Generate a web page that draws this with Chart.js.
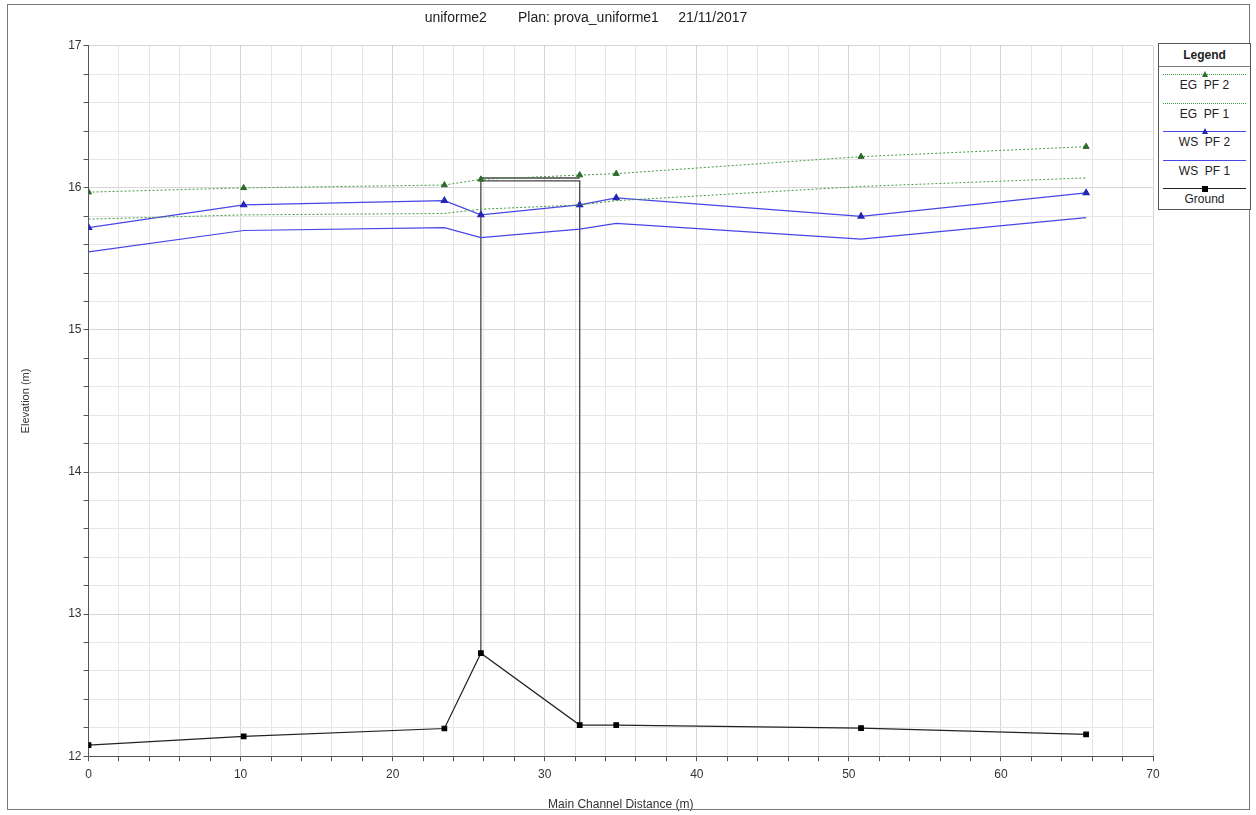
<!DOCTYPE html>
<html>
<head>
<meta charset="utf-8">
<script src="https://cdn.jsdelivr.net/npm/chart.js@4.4.1/dist/chart.umd.min.js"></script>
<style>
  html, body { margin: 0; padding: 0; background: #fff; }
  #wrap { position: relative; width: 1256px; height: 815px; }
  #frame { position: absolute; left: 7px; top: 4px; width: 1243px; height: 806px; border: 1px solid #777; box-sizing: border-box; pointer-events: none; }
  #plot { position: absolute; left: 0; top: 0; }
  #legend { position: absolute; left: 1158px; top: 43px; width: 93px; height: 167px; border: 1px solid #555; box-sizing: border-box; background: #fff; font-family: "Liberation Sans", Arial, sans-serif; font-size: 12px; color: #222; }
  #legend .head { height: 22px; line-height: 22px; text-align: center; font-weight: bold; border-bottom: 1px solid #777; }
  #legend .item { position: relative; height: 28.5px; }
  #legend .sample { position: absolute; left: 4px; right: 4px; top: 7px; height: 0; }
  #legend .mark { position: absolute; left: 50%; top: -4px; transform: translateX(-50%); }
  #legend .name { position: absolute; left: 0; right: 0; top: 11px; text-align: center; white-space: pre; }
</style>
</head>
<body>
<div id="wrap">
  <canvas id="plot" width="1256" height="815"></canvas>
  <div id="frame"></div>
  <div id="legend"></div>
</div>
<script>
// River stations along the main channel (m)
const stations = [0, 10.2, 23.4, 25.8, 32.3, 34.7, 50.8, 65.6];

// Elevations (m) per profile
const egPF2 = [15.97, 16.00, 16.02, 16.06, 16.09, 16.10, 16.22, 16.29];
const egPF1 = [15.78, 15.81, 15.82, 15.85, 15.88, 15.91, 16.01, 16.07];
const wsPF2 = [15.72, 15.88, 15.91, 15.81, 15.88, 15.93, 15.80, 15.965];
const wsPF1 = [15.55, 15.70, 15.72, 15.65, 15.71, 15.75, 15.64, 15.79];
const ground = [12.078, 12.14, 12.195, 12.725, 12.219, 12.219, 12.198, 12.153];

// Bridge deck between the upstream and downstream faces
const deckStations = [25.8, 32.3];
const deckHigh = 16.07;
const deckLow = 16.05;

const xTicks = [0, 10, 20, 30, 40, 50, 60, 70];
const yTicks = [12, 13, 14, 15, 16, 17];

const GREEN = '#3f9a3f';
const GREEN_MARK = '#2d6b2d';
const BLUE = '#4646e6';
const BLUE_MARK = '#2525b8';
const BLACK = '#222';

const pts = (ys) => stations.map((x, i) => ({ x, y: ys[i] }));

const bridgeFaces = [
  { x: deckStations[0], y: ground[stations.indexOf(deckStations[0])] },
  { x: deckStations[0], y: deckLow },
  { x: deckStations[1], y: deckLow },
  { x: deckStations[1], y: ground[stations.indexOf(deckStations[1])] },
];
const deckTop = deckStations.map(x => ({ x, y: deckHigh }));

const isMajor = (v, list) => list.some(t => Math.abs(t - v) < 1e-6);

new Chart(document.getElementById('plot'), {
  type: 'scatter',
  data: {
    datasets: [
      { label: 'EG  PF 2', data: pts(egPF2), showLine: true, borderColor: GREEN, borderWidth: 1, borderDash: [2, 2],
        pointStyle: 'triangle', pointRadius: 3.5, pointBackgroundColor: GREEN_MARK, pointBorderColor: GREEN_MARK },
      { label: 'EG  PF 1', data: pts(egPF1), showLine: true, borderColor: GREEN, borderWidth: 1, borderDash: [2, 2],
        pointRadius: 0 },
      { label: 'WS  PF 2', data: pts(wsPF2), showLine: true, borderColor: BLUE, borderWidth: 1.2,
        pointStyle: 'triangle', pointRadius: 3.5, pointBackgroundColor: BLUE_MARK, pointBorderColor: BLUE_MARK },
      { label: 'WS  PF 1', data: pts(wsPF1), showLine: true, borderColor: BLUE, borderWidth: 1.2, pointRadius: 0 },
      { label: 'Ground', data: pts(ground), showLine: true, borderColor: BLACK, borderWidth: 1.2,
        pointStyle: 'rect', pointRadius: 3.2, pointBackgroundColor: '#000', pointBorderColor: '#000' },
      { label: 'bridge', data: bridgeFaces, showLine: true, borderColor: '#444', borderWidth: 1.3, pointRadius: 0 },
      { label: 'deck', data: deckTop, showLine: true, borderColor: '#444', borderWidth: 1.5, pointRadius: 0 },
    ],
  },
  options: {
    responsive: false,
    animation: false,
    layout: { padding: { left: 19, right: 103, top: 0, bottom: 3 } },
    plugins: {
      legend: { display: false },
      tooltip: { enabled: false },
      title: {
        display: true,
        text: 'uniforme2        Plan: prova_uniforme1     21/11/2017',
        color: '#222',
        font: { family: '"Liberation Sans", Arial, sans-serif', size: 14, weight: 'normal' },
        padding: { top: 10, bottom: 19 },
      },
    },
    scales: {
      x: {
        type: 'linear', min: 0, max: 70,
        border: { color: '#555', width: 1 },
        grid: {
          color: ctx => isMajor(ctx.tick.value, xTicks) ? '#d6d6d6' : '#e6e6e6',
          tickColor: '#555', tickLength: 5,
        },
        ticks: {
          stepSize: 2, autoSkip: false, maxRotation: 0, color: '#333', padding: 6,
          font: { family: '"Liberation Sans", Arial, sans-serif', size: 12 },
          callback: v => isMajor(v, xTicks) ? String(v) : '',
        },
        title: {
          display: true, text: 'Main Channel Distance (m)', color: '#333',
          font: { family: '"Liberation Sans", Arial, sans-serif', size: 12 }, padding: { top: 10, bottom: 0 },
        },
      },
      y: {
        type: 'linear', min: 12, max: 17,
        border: { color: '#555', width: 1 },
        grid: {
          color: ctx => isMajor(ctx.tick.value, yTicks) ? '#d6d6d6' : '#e6e6e6',
          tickColor: '#555', tickLength: 5,
        },
        ticks: {
          stepSize: 0.2, autoSkip: false, color: '#333', padding: 2,
          font: { family: '"Liberation Sans", Arial, sans-serif', size: 12 },
          callback: v => isMajor(v, yTicks) ? String(Math.round(v)) : '',
        },
        title: {
          display: true, text: 'Elevation (m)', color: '#333',
          font: { family: '"Liberation Sans", Arial, sans-serif', size: 11 }, padding: { top: 0, bottom: 34 },
        },
      },
    },
  },
});

// Legend panel on the right
const legendItems = [
  { name: 'EG  PF 2', color: GREEN, dash: true, mark: 'tri', markColor: GREEN_MARK },
  { name: 'EG  PF 1', color: GREEN, dash: true, mark: null },
  { name: 'WS  PF 2', color: BLUE, dash: false, mark: 'tri', markColor: BLUE_MARK },
  { name: 'WS  PF 1', color: BLUE, dash: false, mark: null },
  { name: 'Ground', color: BLACK, dash: false, mark: 'sq', markColor: '#000' },
];
const legend = document.getElementById('legend');
legend.innerHTML = '<div class="head">Legend</div>' + legendItems.map(it => {
  let mark = '';
  if (it.mark === 'tri') {
    mark = `<div class="mark" style="width:0;height:0;border-left:3.5px solid transparent;border-right:3.5px solid transparent;border-bottom:6px solid ${it.markColor};top:-4px"></div>`;
  } else if (it.mark === 'sq') {
    mark = `<div class="mark" style="width:6px;height:6px;background:${it.markColor};top:-3px"></div>`;
  }
  return `<div class="item"><div class="sample" style="border-top:1px ${it.dash ? 'dotted' : 'solid'} ${it.color}">${mark}</div><div class="name">${it.name}</div></div>`;
}).join('');
</script>
</body>
</html>
